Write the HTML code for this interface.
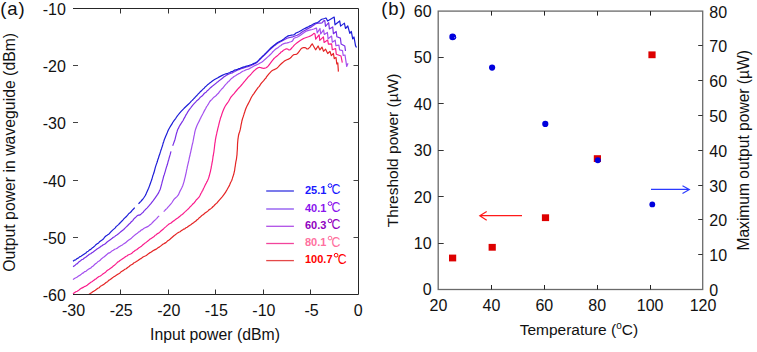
<!DOCTYPE html>
<html><head><meta charset="utf-8"><style>
html,body{margin:0;padding:0;background:#fff;}
svg{display:block;font-family:"Liberation Sans",sans-serif;font-size:16px;fill:#111;}
</style></head><body>
<svg width="757" height="352" viewBox="0 0 757 352">
<rect width="757" height="352" fill="#fff"/>
<text x="0.3" y="14.6" font-size="18.5" letter-spacing="0.9">(a)</text>
<text x="381.2" y="14.6" font-size="18.5" letter-spacing="0.9">(b)</text>
<path d="M89.0,294.2 L90.2,293.5 L91.5,292.7 L92.7,291.7 L94.0,291.1 L95.3,290.3 L96.6,289.3 L97.9,288.3 L99.1,287.8 L100.3,286.3 L101.5,285.8 L102.7,285.0 L103.9,284.4 L105.2,283.3 L106.4,282.3 L107.6,281.7 L108.7,280.4 L109.8,279.8 L111.3,278.7 L112.8,277.6 L114.0,276.6 L115.3,276.0 L116.3,275.3 L117.4,274.6 L118.7,273.8 L120.0,272.9 L121.2,271.7 L122.4,271.0 L123.5,270.4 L124.9,269.3 L126.2,268.8 L127.6,267.5 L128.8,266.8 L130.1,265.5 L131.4,264.8 L132.5,264.3 L133.7,263.0 L134.8,262.5 L136.4,261.6 L138.0,260.5 L139.7,259.2 L141.3,258.4 L143.0,257.0 L144.6,256.3 L146.3,255.5 L148.0,254.1 L149.6,252.9 L151.3,252.0 L153.0,250.7 L154.6,249.9 L156.3,249.1 L158.0,247.7 L159.6,246.9 L161.2,245.6 L162.8,244.3 L164.4,243.4 L165.9,242.6 L167.4,241.1 L168.7,240.2 L170.0,239.2 L171.6,237.8 L172.8,236.7 L174.2,235.5 L175.3,234.8 L176.4,233.9 L177.6,232.9 L178.8,232.2 L180.1,231.7 L181.3,230.6 L182.5,230.0 L183.7,229.1 L184.8,228.8 L186.0,227.8 L187.2,227.3 L188.4,226.3 L189.6,225.4 L190.8,224.7 L192.0,223.8 L193.2,223.1 L194.4,222.0 L195.6,221.3 L196.8,220.0 L198.0,219.2 L199.2,217.8 L200.4,216.9 L201.6,215.8 L202.7,214.9 L203.7,214.2 L204.7,213.3 L206.6,212.0 L208.4,210.6 L209.3,209.5 L210.3,209.1 L211.2,208.4 L212.2,207.5 L213.1,206.5 L214.1,205.7 L215.1,204.5 L216.1,203.6 L217.2,202.7 L218.2,201.3 L219.1,200.3 L220.0,199.3 L221.3,197.8 L222.4,196.6 L223.5,195.2 L224.6,193.6 L225.8,191.9 L226.4,190.7 L227.0,189.8 L227.7,188.5 L228.4,187.2 L229.2,185.9 L229.9,184.3 L230.6,182.5 L231.3,181.3 L231.8,180.2 L232.4,178.4 L232.9,176.7 L233.3,175.6 L233.7,174.3 L234.1,172.7 L234.4,171.5 L234.7,169.8 L234.9,168.0 L235.1,166.9 L235.3,165.8 L235.5,164.2 L235.7,162.9 L235.9,161.7 L236.4,159.3 L236.7,157.0 L237.0,154.7 L237.1,152.4 L237.2,151.3 L237.3,150.0 L237.4,148.3 L237.4,147.4 L237.5,145.7 L237.5,144.6 L237.6,143.1 L237.7,142.0 L237.9,139.7 L238.2,137.6 L238.5,135.5 L239.0,133.5 L239.7,131.6 L240.2,129.7 L240.6,127.8 L240.9,126.0 L241.2,124.3 L241.6,122.6 L241.9,121.0 L242.3,119.5 L242.7,118.1 L243.2,116.7 L243.6,115.4 L244.0,114.2 L244.3,113.2 L244.7,112.0 L245.1,110.7 L245.6,109.3 L246.2,107.7 L247.0,106.0 L248.0,104.1 L249.0,102.2 L249.9,100.4 L250.8,98.5 L251.7,96.8 L252.7,95.2 L253.7,93.8 L254.7,92.3 L255.7,90.8 L256.8,89.3 L258.2,87.4 L259.3,86.4 L260.3,84.7 L261.6,82.9 L262.8,81.6 L263.9,80.4 L265.0,78.9 L265.8,78.2 L266.5,76.9 L267.7,75.3 L268.9,73.9 L270.1,72.6 L271.2,71.4 L272.3,70.5 L273.3,69.9 L274.2,69.6 L275.0,69.2 L275.7,68.9 L276.4,68.5 L277.2,67.9 L278.3,66.8 L279.6,65.4 L281.0,64.0 L282.4,62.8 L283.8,61.6 L285.3,60.5 L286.9,59.7 L288.5,59.1 L290.0,58.3 L291.2,57.2 L292.3,55.9 L293.4,54.9 L294.6,54.5 L295.7,54.4 L296.8,54.1 L297.7,53.3 L298.6,52.2 L299.4,51.1 L300.2,50.0 L301.0,48.9 L301.9,48.1 L303.0,47.7 L304.2,47.6 L305.3,47.7 L306.2,48.2 L306.9,49.0 L307.9,49.0 L309.4,47.6 L310.2,46.8 L311.0,45.4 L312.2,43.8 L315.6,49.8 L318.1,46.0 L319.9,49.9 L322.0,47.1 L323.5,51.3 L325.6,49.2 L327.7,53.5 L329.9,51.3 L331.3,55.6 L333.4,53.5 L334.3,58.6 L336.0,57.5 L336.8,64.0 L337.8,63.0 L338.4,71.6" stroke="#e42424" stroke-width="1.2" fill="none" stroke-linejoin="round"/>
<path d="M73.0,293.8 L74.4,292.8 L75.8,291.8 L77.2,291.2 L78.7,290.2 L80.2,289.1 L81.7,288.1 L83.2,287.4 L84.5,286.5 L85.8,286.1 L87.1,285.2 L88.3,284.3 L89.6,283.3 L90.9,282.2 L92.3,281.5 L93.6,280.4 L94.9,279.4 L96.2,278.7 L97.6,277.4 L99.0,276.5 L100.4,276.0 L101.8,274.9 L103.2,273.7 L104.4,273.0 L105.6,272.2 L106.8,270.8 L108.0,270.0 L109.2,269.3 L110.6,268.3 L112.0,267.3 L113.3,266.0 L114.4,265.3 L115.4,264.4 L116.5,263.3 L117.6,262.1 L118.8,261.5 L120.0,260.5 L121.5,259.6 L123.0,258.5 L124.5,257.5 L125.7,256.5 L126.9,256.0 L128.1,255.0 L129.3,254.5 L130.6,254.0 L131.8,253.2 L133.0,252.1 L134.2,251.3 L135.4,250.3 L136.6,249.8 L137.8,248.7 L139.0,247.8 L140.2,247.1 L141.5,246.2 L142.7,245.0 L143.9,244.1 L145.0,243.1 L146.1,242.4 L147.3,241.4 L148.4,240.6 L149.8,239.3 L151.2,238.4 L152.6,237.5 L153.8,236.8 L155.1,235.3 L156.4,234.7 L157.5,233.5 L158.7,233.1 L159.8,232.1 L161.2,230.8 L162.5,229.7 L163.7,228.7 L164.8,227.6 L166.0,226.6 L167.1,225.6 L168.3,224.6 L169.5,223.8 L170.7,223.3 L171.9,222.2 L173.1,221.2 L174.2,220.6 L175.2,219.8 L176.2,219.1 L178.1,217.8 L179.9,216.3 L180.9,215.3 L181.8,214.7 L182.8,214.0 L183.7,213.1 L184.7,212.1 L185.6,211.4 L186.6,210.4 L187.5,209.6 L188.4,208.8 L189.4,207.7 L190.3,206.6 L191.3,205.7 L192.3,204.7 L193.3,203.5 L194.3,202.7 L195.3,201.3 L196.2,200.0 L197.0,199.3 L198.1,198.1 L199.0,197.1 L200.0,195.5 L200.8,193.7 L201.6,192.5 L202.2,191.1 L202.8,190.3 L203.4,188.8 L204.2,187.3 L205.0,185.5 L205.7,184.1 L206.3,183.0 L206.9,181.7 L207.5,180.8 L208.0,179.4 L208.5,178.4 L208.9,177.1 L209.3,175.8 L209.7,174.1 L210.0,173.0 L210.4,171.6 L210.7,169.9 L211.1,168.3 L211.4,166.2 L211.7,165.2 L211.9,163.7 L212.2,162.2 L212.5,160.7 L212.8,158.5 L213.0,156.7 L213.3,155.5 L213.5,154.0 L213.7,152.9 L213.9,151.8 L214.1,150.0 L214.3,148.5 L214.5,146.7 L214.7,144.9 L214.9,143.2 L215.2,141.8 L215.4,139.8 L215.7,138.3 L216.0,136.7 L216.3,135.4 L216.7,133.7 L217.0,132.0 L217.4,130.6 L217.8,128.6 L218.2,127.1 L218.7,125.2 L219.1,123.4 L219.6,121.4 L220.0,120.0 L220.4,118.4 L220.9,117.0 L221.3,116.0 L221.8,114.3 L222.3,112.9 L222.7,111.8 L223.6,109.6 L224.4,107.7 L225.3,106.0 L226.4,104.4 L227.5,102.9 L228.5,101.5 L229.3,100.0 L230.1,98.5 L230.9,97.1 L232.0,95.8 L233.1,94.6 L234.3,93.3 L235.4,91.9 L236.6,90.5 L237.7,89.2 L238.8,88.0 L239.9,86.8 L241.1,85.5 L242.5,83.9 L243.9,82.2 L245.2,80.7 L246.2,79.4 L247.1,78.3 L248.0,77.2 L248.9,76.3 L249.9,75.4 L250.8,74.5 L251.6,73.5 L252.5,72.4 L253.5,71.3 L254.9,70.1 L256.4,68.8 L257.8,67.9 L258.7,67.5 L259.5,67.4 L260.3,67.5 L261.4,67.8 L262.6,68.1 L263.8,68.3 L264.9,68.2 L266.1,67.8 L267.2,67.1 L268.3,65.9 L269.5,64.3 L270.6,62.8 L271.7,61.3 L272.9,59.8 L274.0,58.5 L275.0,57.6 L276.0,56.8 L277.0,56.0 L278.0,55.1 L279.0,54.1 L280.3,53.0 L281.2,51.9 L282.2,51.5 L283.3,50.3 L284.4,49.8 L286.3,48.8 L287.6,49.0 L288.6,49.9 L289.7,50.0 L291.2,48.8 L292.0,47.6 L292.8,46.8 L294.3,45.1 L295.7,43.9 L297.1,42.8 L298.5,41.8 L299.9,40.8 L301.4,39.8 L302.8,38.9 L304.2,38.2 L305.6,37.7 L307.0,37.2 L308.5,36.7 L310.0,36.1 L311.3,35.5 L312.4,34.7 L313.3,33.9 L313.9,33.3 L315.0,34.0 L315.7,39.2 L319.1,34.8 L319.8,40.4 L323.4,36.9 L324.1,42.4 L327.7,40.1 L328.4,44.1 L331.6,43.8 L332.3,49.7 L335.6,48.5 L336.3,54.3 L341.0,56.0 L342.3,62.6" stroke="#fa1c8c" stroke-width="1.2" fill="none" stroke-linejoin="round"/>
<path d="M73.0,279.6 L74.4,278.5 L75.8,277.8 L77.3,276.9 L78.5,276.0 L79.7,275.4 L80.9,274.6 L82.2,273.4 L83.4,272.9 L84.6,271.7 L85.9,271.4 L87.1,270.2 L88.4,269.3 L89.6,268.6 L90.8,268.0 L92.0,266.7 L93.2,266.0 L94.3,264.8 L95.5,263.8 L96.7,262.9 L98.0,261.6 L99.2,260.9 L100.4,260.0 L101.6,258.7 L103.0,257.6 L104.3,256.7 L105.7,255.5 L107.1,254.3 L108.3,253.2 L109.5,252.9 L110.7,252.0 L111.8,251.1 L113.3,250.2 L114.7,249.2 L116.1,248.7 L117.4,248.1 L118.7,247.1 L120.0,246.3 L121.2,245.6 L122.4,244.9 L123.6,243.9 L124.7,243.2 L125.8,242.6 L126.9,241.5 L128.4,240.3 L130.0,239.2 L131.4,238.2 L132.8,236.8 L134.2,235.6 L135.5,234.5 L137.0,233.6 L138.5,232.1 L139.8,231.5 L141.1,230.1 L142.4,229.6 L143.7,228.5 L145.1,227.7 L146.5,227.1 L148.2,226.4 L149.8,225.0 L151.1,224.0 L151.5,223.6 L153.0,222.0 L154.3,220.7 L155.5,219.6 L156.8,218.3 L158.0,216.9 L159.2,215.9 M163.7,211.6 L164.7,210.6 L165.7,209.5 L166.8,208.6 L168.0,207.2 L169.4,205.7 L170.7,204.2 L172.0,202.5 L173.1,200.7 L174.2,199.2 L175.4,198.0 L176.7,196.9 L177.8,195.7 L178.6,194.4 L179.2,193.0 L179.9,191.4 L180.8,189.7 L181.8,187.8 L182.7,185.7 L183.4,183.6 L184.1,181.3 L184.4,180.0 L184.8,178.4 L185.2,176.8 L185.7,174.5 L186.0,173.3 L186.3,171.9 L186.6,170.1 L187.0,168.7 L187.3,166.9 L187.6,165.6 L187.9,164.4 L188.2,163.1 L188.6,161.3 L188.9,160.2 L189.2,158.5 L189.5,157.1 L189.9,155.8 L190.2,154.0 L190.5,152.8 L190.8,151.6 L191.1,150.0 L191.5,148.5 L191.8,146.9 L192.1,145.3 L192.4,144.1 L192.7,143.0 L193.0,141.7 L193.3,140.0 L193.7,137.8 L194.0,136.2 L194.4,134.7 L194.7,132.7 L195.1,130.9 L195.6,129.2 L196.3,127.2 L197.0,125.6 L197.8,123.8 L198.6,122.2 L199.3,120.9 L200.0,119.2 L200.6,118.3 L201.1,117.0 L202.1,115.2 L203.0,113.5 L203.8,111.9 L204.6,110.4 L205.7,108.5 L206.4,106.9 L207.1,106.0 L208.0,104.7 L208.8,103.2 L209.8,101.5 L210.7,100.5 L211.7,99.6 L212.8,98.3 L213.9,97.2 L215.0,96.4 L216.2,95.5 L217.3,94.2 L218.4,93.3 L219.5,91.7 L220.6,90.4 L221.7,89.0 L222.9,88.0 L224.1,86.3 L225.5,84.7 L226.8,83.4 L227.8,82.1 L228.7,81.5 L229.7,80.4 L231.1,78.8 L232.6,77.8 L234.0,76.5 L235.5,75.7 L236.9,74.7 L238.3,73.9 L239.8,73.2 L241.2,72.3 L242.7,71.3 L244.2,70.8 L245.7,69.9 L247.2,69.5 L248.4,69.2 L249.7,68.4 L251.5,67.5 L252.8,66.7 L254.0,66.0 L255.3,65.4 L256.5,64.9 L257.8,64.3 L259.2,63.6 L260.6,62.8 L262.0,61.9 L263.3,60.9 L264.6,59.7 L266.0,58.5 L267.5,57.1 L269.1,55.7 L270.6,54.3 L271.7,53.1 L272.6,52.0 L274.0,50.6 L275.2,49.5 L276.4,48.6 L277.9,47.8 L279.4,46.3 L280.7,45.7 L282.0,44.5 L283.9,43.6 L285.6,43.2 L287.2,42.8 L289.0,42.3 L290.9,41.7 L292.3,41.1 L293.0,40.2 L293.4,39.2 L294.0,38.3 L295.3,37.7 L296.9,37.2 L298.5,36.5 L300.0,35.6 L301.4,34.5 L302.8,33.5 L304.2,32.5 L305.5,31.6 L307.0,30.8 L308.7,30.3 L310.5,29.9 L312.2,29.5 L313.9,29.0 L315.4,28.4 L316.5,28.0 L317.2,32.9 L320.0,28.5 L320.7,33.8 L323.6,29.9 L324.3,34.5 L327.4,32.4 L328.1,38.8 L331.6,36.1 L332.3,42.2 L335.2,40.2 L335.9,45.7 L338.9,45.1 L339.6,49.9 L342.5,50.6 L343.2,55.5 L345.0,55.0 L346.7,66.4 L348.0,63.2" stroke="#a450ee" stroke-width="1.2" fill="none" stroke-linejoin="round"/>
<path d="M73.0,266.6 L74.5,265.8 L76.0,264.3 L77.4,263.6 L78.8,261.9 L80.2,261.1 L81.6,259.8 L83.0,259.3 L84.4,258.0 L85.7,257.3 L86.9,256.3 L88.2,255.3 L89.4,254.3 L90.7,253.7 L91.9,252.7 L93.2,251.9 L94.4,251.0 L95.7,250.1 L97.0,249.0 L98.2,248.3 L99.5,247.4 L100.8,246.4 L102.0,245.8 L103.3,244.7 L104.6,244.2 L105.8,243.2 L107.1,242.0 L108.4,241.1 L109.6,240.2 L110.9,239.3 L112.2,238.3 L113.4,237.2 L114.7,236.7 L116.0,235.4 L117.2,234.7 L118.5,233.8 L119.8,232.6 L121.1,231.5 L122.4,230.5 L123.7,229.5 L125.0,228.1 L126.3,226.9 L127.5,225.8 L128.6,224.5 L129.8,223.6 L130.8,222.3 L131.7,221.5 L132.7,220.6 L133.9,218.9 L135.1,217.8 L136.1,216.8 L137.1,215.8 L138.5,215.1 L139.4,215.1 L140.5,214.6 L142.1,213.1 L143.0,212.5 L143.9,211.2 L144.7,210.4 L145.6,209.4 L147.2,207.8 L148.7,206.2 L150.0,204.7 L151.1,203.4 L152.0,202.1 L153.0,200.8 L154.1,199.3 L155.2,197.8 L156.4,196.1 L157.6,194.4 L158.7,192.6 L159.3,191.1 L159.9,190.0 L160.3,189.0 L160.7,187.6 L161.1,186.1 L161.5,184.7 L161.9,183.2 L162.3,181.4 L162.7,180.1 L163.1,178.6 L163.5,176.9 L163.9,175.5 L164.3,174.7 L164.7,173.1 L165.2,171.6 L165.8,169.4 L166.4,167.3 L167.0,165.6 L167.4,164.3 L167.8,162.8 L168.2,161.2 L168.7,159.7 L169.1,158.2 L169.5,156.7 L169.9,155.4 L170.2,154.4 L170.6,152.8 L171.0,151.4 M172.7,145.7 L173.4,143.9 L174.0,142.2 L174.8,140.0 L175.2,138.6 L175.6,136.8 L176.1,134.8 L176.6,133.0 L177.1,131.5 L177.7,129.5 L178.4,128.4 L179.1,126.7 L179.9,125.4 L180.7,124.1 L181.5,122.9 L182.3,121.6 L183.1,120.5 L183.8,118.9 L184.6,117.7 L185.3,116.2 L186.0,114.9 L186.8,113.6 L187.6,112.2 L188.3,111.2 L189.1,109.9 L189.9,108.9 L190.6,108.0 L191.4,106.8 L192.8,105.1 L194.1,103.7 L195.6,102.2 L196.5,101.0 L197.4,100.3 L198.4,99.6 L199.4,98.3 L200.4,97.2 L201.4,96.4 L202.3,95.8 L203.3,94.6 L204.2,93.5 L205.1,92.8 L206.1,92.2 L207.0,91.0 L207.9,90.3 L208.9,89.3 L209.8,88.4 L210.8,87.5 L211.7,86.7 L212.7,85.9 L213.6,85.2 L214.6,84.4 L215.5,83.7 L216.5,82.9 L217.4,82.0 L218.4,81.4 L219.4,80.4 L220.4,79.8 L221.4,79.0 L222.4,78.2 L224.1,76.8 L225.4,75.9 L226.4,75.2 L227.5,74.6 L228.5,74.2 L229.5,73.8 L231.0,73.2 L232.2,73.0 L233.4,72.1 L234.8,71.5 L236.2,70.8 L237.6,69.9 L238.9,69.6 L241.1,68.8 L243.2,68.1 L245.0,67.5 L246.6,67.0 L247.9,66.6 L249.3,66.1 L250.7,65.6 L252.1,65.0 L253.4,64.4 L254.6,63.8 L255.8,63.3 L256.9,62.5 L258.0,61.4 L259.2,60.2 L260.3,59.0 L261.5,57.9 L262.6,56.7 L263.8,55.6 L265.0,54.5 L266.1,53.4 L267.2,52.3 L268.2,51.3 L269.0,50.4 L270.0,49.5 L271.1,48.5 L272.3,47.5 L273.5,46.5 L274.8,45.4 L276.3,44.3 L277.7,43.3 L279.1,42.5 L280.5,41.8 L282.0,41.0 L283.8,40.0 L285.6,39.0 L287.2,38.2 L288.3,37.8 L289.0,37.7 L290.0,37.5 L291.3,37.2 L292.8,36.8 L294.3,36.3 L295.7,35.8 L297.1,35.3 L298.5,34.6 L299.9,33.7 L301.4,32.6 L302.8,31.6 L304.2,30.7 L305.6,29.9 L307.0,29.1 L308.5,28.4 L309.9,27.6 L311.3,26.9 L312.5,26.0 L313.6,25.2 L314.7,24.4 L315.8,23.8 L316.9,23.4 L318.1,23.1 L319.4,23.0 L320.7,23.1 L321.8,23.0 L322.5,22.4 L323.0,21.6 L323.5,21.0 L324.0,20.7 L324.5,20.6 L324.8,20.5 L324.8,20.5 L325.5,26.3 L328.7,22.7 L329.4,28.9 L332.7,26.9 L333.4,33.7 L336.2,31.5 L336.9,36.8 L340.4,38.1 L341.1,44.0 L344.8,46.0 L345.5,51.0" stroke="#7a30e6" stroke-width="1.2" fill="none" stroke-linejoin="round"/>
<path d="M73.0,261.2 L74.3,260.2 L75.6,259.9 L76.8,258.8 L78.2,258.1 L79.6,256.9 L81.0,256.2 L82.4,255.3 L83.6,254.5 L84.7,253.8 L85.9,253.1 L87.1,251.7 L88.3,251.2 L89.6,249.9 L90.8,249.4 L92.1,248.1 L93.3,247.3 L94.6,246.1 L95.9,244.7 L97.2,243.8 L98.6,242.9 L99.9,241.4 L101.3,240.4 L102.4,239.7 L103.6,238.7 L104.8,237.0 L105.9,236.0 L107.1,235.3 L108.2,234.4 L109.3,233.7 L110.4,232.3 L111.4,231.4 L112.6,230.1 L113.8,229.1 L115.0,228.1 L116.1,226.6 L117.3,225.6 L118.5,224.6 L119.5,223.5 L120.5,222.5 L121.6,221.3 L122.6,220.5 L123.6,219.2 L124.6,218.1 L125.6,217.2 L126.7,216.2 L127.8,214.9 L128.9,213.5 L130.0,212.7 L131.1,211.8 L132.1,210.4 L133.5,209.0 L134.7,207.6 M138.5,203.8 L139.7,202.5 L140.9,201.3 L142.0,200.0 L143.0,198.8 L144.0,197.5 L145.0,196.0 L146.0,194.1 L146.9,192.0 L147.8,190.0 L148.6,188.2 L149.3,186.4 L150.0,184.5 L150.6,182.8 L151.2,181.1 L151.7,179.8 L152.1,178.4 L152.5,177.1 L152.9,175.4 L153.4,174.2 L153.9,172.8 L154.4,171.0 L154.9,169.1 L155.4,167.1 L155.9,165.6 L156.4,164.1 L156.9,162.8 L157.4,161.3 L157.8,159.7 L158.3,158.6 L158.8,156.8 L159.2,155.5 L159.7,154.3 L160.1,152.9 L160.6,151.4 L161.0,149.9 L161.5,148.7 L161.9,147.3 L162.3,146.2 L162.7,144.9 L163.1,143.3 L163.7,141.7 L164.2,140.0 L164.6,138.9 L165.1,137.7 L165.8,136.1 L166.5,134.5 L167.2,132.8 L167.8,131.2 L168.6,129.5 L169.6,127.7 L170.7,125.9 L172.0,123.9 L172.7,122.4 L173.4,121.6 L174.2,120.3 L175.0,119.3 L175.8,118.3 L176.6,117.0 L177.4,115.9 L178.1,115.0 L179.6,113.1 L181.1,111.4 L182.6,109.8 L184.1,108.3 L185.7,106.8 L187.3,105.3 L188.9,103.8 L190.5,102.2 L191.3,101.1 L192.2,100.4 L193.1,99.5 L193.9,98.5 L194.8,97.7 L195.7,96.6 L196.6,95.8 L197.6,94.7 L198.5,93.6 L199.5,92.7 L200.4,91.7 L201.4,90.8 L202.3,89.9 L203.3,88.9 L204.2,88.2 L205.1,87.0 L206.1,86.2 L207.0,85.3 L207.9,84.4 L208.9,83.7 L209.8,82.9 L210.8,82.2 L212.7,80.8 L214.6,79.6 L216.5,78.5 L218.4,77.4 L220.3,76.4 L222.2,75.4 L224.1,74.5 L225.9,73.8 L227.8,73.3 L230.0,72.5 L231.4,71.6 L232.8,71.3 L234.4,70.2 L236.0,69.8 L237.5,69.4 L238.9,68.6 L240.1,68.5 L241.2,67.8 L243.2,67.1 L245.0,66.6 L246.6,66.1 L247.9,65.7 L249.3,65.3 L250.7,64.8 L252.2,64.2 L253.5,63.6 L254.7,63.1 L255.8,62.6 L256.9,61.9 L258.0,60.9 L259.2,59.7 L260.3,58.5 L261.5,57.4 L262.6,56.2 L263.8,55.1 L265.0,53.9 L266.1,52.8 L267.2,51.7 L268.2,50.7 L269.0,49.8 L270.0,48.8 L271.1,47.8 L272.3,46.8 L273.5,45.8 L274.8,44.7 L276.3,43.5 L277.7,42.5 L279.1,41.7 L280.5,41.0 L282.0,40.2 L283.8,38.9 L285.6,37.5 L287.2,36.4 L288.3,35.9 L289.0,35.7 L290.0,35.5 L291.4,35.2 L293.0,35.0 L294.3,34.6 L295.0,34.1 L295.5,33.5 L296.0,33.0 L296.7,32.7 L297.5,32.4 L298.5,32.0 L299.8,31.3 L301.3,30.4 L302.8,29.5 L304.2,28.8 L305.6,28.1 L307.0,27.4 L308.4,26.7 L309.9,25.9 L311.3,25.2 L312.6,24.5 L313.8,23.8 L315.0,23.2 L316.2,22.8 L317.3,22.5 L318.4,22.0 L319.3,21.3 L320.2,20.4 L321.0,19.7 L321.8,19.3 L322.7,19.0 L323.5,18.8 L324.5,18.5 L325.4,18.2 L326.1,18.0 L327.6,21.0 L334.2,17.1 L335.0,24.8 L339.7,21.0 L340.6,26.1 L344.4,23.1 L345.5,28.5 L347.8,26.0 L349.8,33.4 L351.3,31.4 L352.7,38.8 L354.0,37.0 L355.5,45.6 L356.5,47.5" stroke="#1c1cd8" stroke-width="1.2" fill="none" stroke-linejoin="round"/>
<path d="M73,8.5H358.5V294.5H73" stroke="#262626" stroke-width="1" fill="none"/><path d="M120.5,294.5V289.5M120.5,8.5V13.5" stroke="#333" stroke-width="1"/><path d="M168.5,294.5V289.5M168.5,8.5V13.5" stroke="#333" stroke-width="1"/><path d="M215.5,294.5V289.5M215.5,8.5V13.5" stroke="#333" stroke-width="1"/><path d="M263.5,294.5V289.5M263.5,8.5V13.5" stroke="#333" stroke-width="1"/><path d="M310.5,294.5V289.5M310.5,8.5V13.5" stroke="#333" stroke-width="1"/><path d="M73,65.5H78M358.5,65.5H353.5" stroke="#444" stroke-width="1"/><path d="M73,122.5H78M358.5,122.5H353.5" stroke="#444" stroke-width="1"/><path d="M73,180.5H78M358.5,180.5H353.5" stroke="#444" stroke-width="1"/><path d="M73,237.5H78M358.5,237.5H353.5" stroke="#444" stroke-width="1"/>
<text x="65.8" y="15.0" text-anchor="end">-10</text><text x="65.8" y="72.2" text-anchor="end">-20</text><text x="65.8" y="129.4" text-anchor="end">-30</text><text x="65.8" y="186.6" text-anchor="end">-40</text><text x="65.8" y="243.8" text-anchor="end">-50</text><text x="65.8" y="301.0" text-anchor="end">-60</text><text x="73.6" y="315.6" text-anchor="middle">-30</text><text x="121.2" y="315.6" text-anchor="middle">-25</text><text x="168.8" y="315.6" text-anchor="middle">-20</text><text x="216.3" y="315.6" text-anchor="middle">-15</text><text x="263.9" y="315.6" text-anchor="middle">-10</text><text x="311.5" y="315.6" text-anchor="middle">-5</text><text x="358.1" y="315.6" text-anchor="middle">0</text>
<path d="M266.2,191.0H293.9" stroke="#3434e0" stroke-width="1.3"/><text x="305.0" y="193.6" fill="#1a1aff" font-weight="bold" font-size="11">25.1</text><circle cx="330.0" cy="185.6" r="1.85" stroke="#1a1aff" stroke-width="1" fill="none"/><text transform="translate(331.6,194.0) scale(0.88,1.02)" fill="#1a1aff" font-size="14">C</text><path d="M266.2,209.0H293.9" stroke="#8a50f0" stroke-width="1.3"/><text x="305.0" y="211.6" fill="#8a14ee" font-weight="bold" font-size="11">40.1</text><circle cx="330.0" cy="203.6" r="1.85" stroke="#8a14ee" stroke-width="1" fill="none"/><text transform="translate(331.6,212.0) scale(0.88,1.02)" fill="#8a14ee" font-size="14">C</text><path d="M266.2,226.3H293.9" stroke="#b050e6" stroke-width="1.3"/><text x="305.0" y="228.9" fill="#9000c0" font-weight="bold" font-size="11">60.3</text><circle cx="330.0" cy="220.9" r="1.85" stroke="#9000c0" stroke-width="1" fill="none"/><text transform="translate(331.6,229.3) scale(0.88,1.02)" fill="#9000c0" font-size="14">C</text><path d="M266.2,243.5H293.9" stroke="#f2449c" stroke-width="1.3"/><text x="305.0" y="246.1" fill="#ff70a0" font-weight="bold" font-size="11">80.1</text><circle cx="330.0" cy="238.1" r="1.85" stroke="#ff70a0" stroke-width="1" fill="none"/><text transform="translate(331.6,246.5) scale(0.88,1.02)" fill="#ff70a0" font-size="14">C</text><path d="M266.2,260.6H293.9" stroke="#e44848" stroke-width="1.3"/><text x="305.0" y="263.2" fill="#ff0000" font-weight="bold" font-size="11">100.7</text><circle cx="336.1" cy="255.2" r="1.85" stroke="#ff0000" stroke-width="1" fill="none"/><text transform="translate(337.7,263.6) scale(0.88,1.02)" fill="#ff0000" font-size="14">C</text>
<text transform="translate(14.9,152.3) rotate(-90)" text-anchor="middle" font-size="15.8">Output power in waveguide (dBm)</text>
<text x="215" y="340.4" text-anchor="middle" font-size="15.8">Input power (dBm)</text>
<rect x="438.2" y="11.1" width="264.5" height="278.4" stroke="#6a6a6a" stroke-width="1.3" fill="none"/><path d="M491.5,289.5V285.0M491.5,11.1V15.6" stroke="#222" stroke-width="1"/><path d="M544.5,289.5V285.0M544.5,11.1V15.6" stroke="#222" stroke-width="1"/><path d="M597.5,289.5V285.0M597.5,11.1V15.6" stroke="#222" stroke-width="1"/><path d="M650.5,289.5V285.0M650.5,11.1V15.6" stroke="#222" stroke-width="1"/><path d="M438.2,243.5H443.7" stroke="#333" stroke-width="1"/><path d="M438.2,196.5H443.7" stroke="#333" stroke-width="1"/><path d="M438.2,150.5H443.7" stroke="#333" stroke-width="1"/><path d="M438.2,103.5H443.7" stroke="#333" stroke-width="1"/><path d="M438.2,57.5H443.7" stroke="#333" stroke-width="1"/><path d="M702.7,254.5H698.2" stroke="#333" stroke-width="1"/><path d="M702.7,219.5H698.2" stroke="#333" stroke-width="1"/><path d="M702.7,185.5H698.2" stroke="#333" stroke-width="1"/><path d="M702.7,150.5H698.2" stroke="#333" stroke-width="1"/><path d="M702.7,115.5H698.2" stroke="#333" stroke-width="1"/><path d="M702.7,80.5H698.2" stroke="#333" stroke-width="1"/><path d="M702.7,45.5H698.2" stroke="#333" stroke-width="1"/><text x="431.6" y="295.3" text-anchor="end">0</text><text x="431.6" y="248.9" text-anchor="end">10</text><text x="431.6" y="202.5" text-anchor="end">20</text><text x="431.6" y="156.1" text-anchor="end">30</text><text x="431.6" y="109.7" text-anchor="end">40</text><text x="431.6" y="63.3" text-anchor="end">50</text><text x="431.6" y="16.9" text-anchor="end">60</text><text x="709.3" y="295.9">0</text><text x="709.3" y="261.1">10</text><text x="709.3" y="226.3">20</text><text x="709.3" y="191.5">30</text><text x="709.3" y="156.7">40</text><text x="709.3" y="121.9">50</text><text x="709.3" y="87.1">60</text><text x="709.3" y="52.3">70</text><text x="709.3" y="17.5">80</text><text x="438.5" y="310.8" text-anchor="middle">20</text><text x="491.4" y="310.8" text-anchor="middle">40</text><text x="544.3" y="310.8" text-anchor="middle">60</text><text x="597.2" y="310.8" text-anchor="middle">80</text><text x="650.1" y="310.8" text-anchor="middle">100</text><text x="703.0" y="310.8" text-anchor="middle">120</text>
<rect x="449.0" y="254.6" width="7.2" height="6.8" fill="#dd0000"/><rect x="488.6" y="243.9" width="7.2" height="6.8" fill="#dd0000"/><rect x="541.9" y="214.3" width="7.2" height="6.8" fill="#dd0000"/><rect x="593.8" y="155.2" width="7.2" height="6.8" fill="#dd0000"/><rect x="648.4" y="51.4" width="7.2" height="6.8" fill="#dd0000"/><circle cx="452.6" cy="36.9" r="3.3" fill="#0000dd"/><circle cx="492.1" cy="67.6" r="3.1" fill="#0000dd"/><circle cx="545.3" cy="123.9" r="3.1" fill="#0000dd"/><circle cx="597.8" cy="160.3" r="3.0" fill="#0000dd"/><circle cx="652.3" cy="204.4" r="2.9" fill="#0000dd"/><circle cx="453.8" cy="37.2" r="2.4" fill="#0000dd"/><circle cx="454.6" cy="37.6" r="0.6" fill="#8080ff"/><path d="M522,215.7H480M486.7,211.6L479.8,215.7L486.7,220.2" stroke="#ff1a1a" stroke-width="1.2" fill="none"/><path d="M651,189.4H689.4M682.5,185.7L689.4,189.4L682.5,193.4" stroke="#2a3aff" stroke-width="1.1" fill="none"/>
<text transform="translate(398.2,150.4) rotate(-90)" text-anchor="middle" font-size="15.5">Threshold power (µW)</text>
<text transform="translate(748.6,150.3) rotate(-90)" text-anchor="middle" font-size="15.6">Maximum output power (µW)</text>
<text x="578.9" y="334.6" text-anchor="middle" font-size="15.5">Temperature (<tspan font-size="10" dy="-6">o</tspan><tspan dy="6">C)</tspan></text>
</svg>
</body></html>
